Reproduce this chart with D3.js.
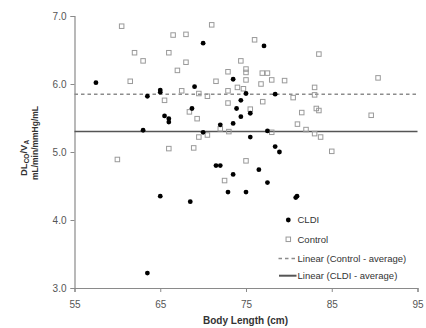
<!DOCTYPE html>
<html>
<head>
<meta charset="utf-8">
<script src="https://cdn.jsdelivr.net/npm/d3@7"></script>
<style>
  html, body { margin: 0; padding: 0; background: #fff; }
  svg { display: block; font-family: "Liberation Sans", Arial, sans-serif; }
</style>
</head>
<body>
<svg id="chart" width="426" height="328"></svg>
<script>
// ---- Data ----
const cldiX = [57.5, 63.5, 63.0, 65.0, 65.0, 65.5, 66.0, 66.0, 69.0, 68.7, 70.0, 70.0, 72.0, 73.5, 73.5, 73.9, 74.4,
  77.1, 75.0, 78.4, 74.4, 75.5, 77.5, 75.5, 78.4, 78.9, 63.5, 65.0, 68.5, 71.5, 72.0, 72.9, 73.5, 76.5, 77.5, 75.0, 80.8, 80.95];
const cldiY = [6.02, 5.82, 5.32, 5.91, 5.88, 5.53, 5.49, 5.44, 5.96, 5.64, 6.60, 5.29, 5.40, 5.42, 6.07, 5.64, 5.52,
  6.56, 5.86, 5.85, 5.76, 5.57, 5.31, 5.22, 5.08, 5.00, 3.22, 4.35, 4.27, 4.80, 4.80, 4.41, 4.67, 4.74, 4.55, 4.41, 4.33, 4.35];

const controlX = [60.5, 62.0, 63.0, 61.5, 66.0, 66.5, 68.0, 71.0, 68.0, 67.0, 67.5, 65.5, 69.5, 70.5, 71.5, 68.4, 69.3,
  72.9, 72.9, 72.9, 74.0, 74.4, 72.0, 73.0, 69.5, 70.5, 66.0, 68.9, 60.0, 72.5, 75.0, 76.0, 75.0, 75.0, 75.0, 74.7,
  76.9, 77.5, 78.0, 76.75, 79.5, 83.5, 90.4, 76.95, 75.5, 80.5, 83.0, 83.0, 83.2, 83.5, 81.5, 81.0, 82.0, 83.0, 83.7,
  89.6, 78.0, 85.0];
const controlY = [6.85, 6.46, 6.34, 6.04, 6.46, 6.72, 6.73, 6.87, 6.32, 6.20, 5.90, 5.76, 5.86, 5.82, 6.04, 5.59, 5.49,
  6.18, 5.90, 5.72, 5.95, 6.34, 5.34, 5.30, 5.22, 5.25, 5.05, 5.06, 4.89, 4.58, 4.87, 6.65, 6.22, 6.17, 6.06, 5.93,
  6.16, 6.16, 6.06, 6.00, 6.05, 6.44, 6.09, 5.74, 5.63, 5.80, 5.95, 5.84, 5.64, 5.61, 5.58, 5.41, 5.33, 5.27, 5.22,
  5.54, 5.29, 5.01];

const controlAverage = 5.85;
const cldiAverage = 5.30;

const xTicks = [55, 65, 75, 85, 95];
const yTicks = [3.0, 4.0, 5.0, 6.0, 7.0];
const legendLabels = ["CLDI", "Control", "Linear (Control - average)", "Linear (CLDI - average)"];

// ---- Layout ----
const svg = d3.select("#chart");
const plotLeft = 74.5, plotRight = 417.5, plotTop = 16, plotBottom = 288;
const x = d3.scaleLinear().domain([55, 95]).range([plotLeft, plotRight]);
const y = d3.scaleLinear().domain([3, 7]).range([plotBottom, plotTop]);

const axisColor = "#8a8a8a";
const labelColor = "#555";

// Y axis
const yAxis = svg.append("g")
  .attr("transform", `translate(${plotLeft},0)`)
  .call(d3.axisLeft(y).tickValues(yTicks).tickFormat(d3.format(".1f")).tickSize(4).tickPadding(4));
// X axis
const xAxis = svg.append("g")
  .attr("transform", `translate(0,${plotBottom})`)
  .call(d3.axisBottom(x).tickValues(xTicks).tickSize(4).tickPadding(9));

[yAxis, xAxis].forEach(g => {
  g.select(".domain").attr("stroke", axisColor).attr("stroke-width", 1.2);
  g.selectAll(".tick line").attr("stroke", axisColor);
  g.selectAll(".tick text").attr("fill", labelColor).attr("font-size", 10)
    .attr("font-family", "'Liberation Sans', Arial, sans-serif");
});

// Average lines
svg.append("line")
  .attr("x1", x(55)).attr("x2", x(95))
  .attr("y1", y(controlAverage)).attr("y2", y(controlAverage))
  .attr("stroke", "#8c8c8c").attr("stroke-width", 1.5).attr("stroke-dasharray", "3.5,3");
svg.append("line")
  .attr("x1", x(55)).attr("x2", x(95))
  .attr("y1", y(cldiAverage)).attr("y2", y(cldiAverage))
  .attr("stroke", "#555").attr("stroke-width", 1.5);

// Control squares
const sq = 4.5;
svg.append("g").selectAll("rect")
  .data(controlX.map((d, i) => [d, controlY[i]]))
  .join("rect")
  .attr("x", d => x(d[0]) - sq / 2).attr("y", d => y(d[1]) - sq / 2)
  .attr("width", sq).attr("height", sq)
  .attr("fill", "none").attr("stroke", "#9a9a9a").attr("stroke-width", 1);

// CLDI dots
svg.append("g").selectAll("circle")
  .data(cldiX.map((d, i) => [d, cldiY[i]]))
  .join("circle")
  .attr("cx", d => x(d[0])).attr("cy", d => y(d[1]))
  .attr("r", 2.4).attr("fill", "#000");

// Axis titles
svg.append("text")
  .attr("x", (plotLeft + plotRight) / 2 - 0.5).attr("y", 324)
  .attr("text-anchor", "middle").attr("font-size", 10).attr("font-weight", "bold").attr("fill", "#333")
  .text("Body Length (cm)");

const yt1 = svg.append("text")
  .attr("transform", "translate(27,176) rotate(-90)")
  .attr("text-anchor", "start").attr("font-size", 9.5).attr("font-weight", "bold").attr("fill", "#333");
yt1.append("tspan").text("DL");
yt1.append("tspan").attr("font-size", 6.5).attr("dy", 2).text("CO");
yt1.append("tspan").attr("dy", -2).text("/V");
yt1.append("tspan").attr("font-size", 6.5).attr("dy", 2).text("A");

svg.append("text")
  .attr("transform", "translate(37.5,180) rotate(-90)")
  .attr("text-anchor", "start").attr("font-size", 9.5).attr("font-weight", "bold").attr("fill", "#333")
  .attr("textLength", 74).attr("lengthAdjust", "spacingAndGlyphs")
  .text("mL/min/mmHg/mL");

// Legend
const legY = [220, 239.3, 258.5, 275.7];
const lg = svg.append("g");
lg.append("circle").attr("cx", 288.3).attr("cy", legY[0]).attr("r", 2.4).attr("fill", "#000");
lg.append("rect").attr("x", 288.3 - sq / 2).attr("y", legY[1] - sq / 2).attr("width", sq).attr("height", sq)
  .attr("fill", "none").attr("stroke", "#9a9a9a").attr("stroke-width", 1);
lg.append("line").attr("x1", 278.5).attr("x2", 296.5).attr("y1", legY[2]).attr("y2", legY[2])
  .attr("stroke", "#8c8c8c").attr("stroke-width", 1.5).attr("stroke-dasharray", "3.5,3");
lg.append("line").attr("x1", 279).attr("x2", 296.5).attr("y1", legY[3]).attr("y2", legY[3])
  .attr("stroke", "#555").attr("stroke-width", 2);
legendLabels.forEach((t, i) => {
  lg.append("text").attr("x", 297.5).attr("y", legY[i]).attr("dy", "0.35em")
    .attr("font-size", 9.5).attr("fill", "#333")
    .text(t);
});
</script>
</body>
</html>
